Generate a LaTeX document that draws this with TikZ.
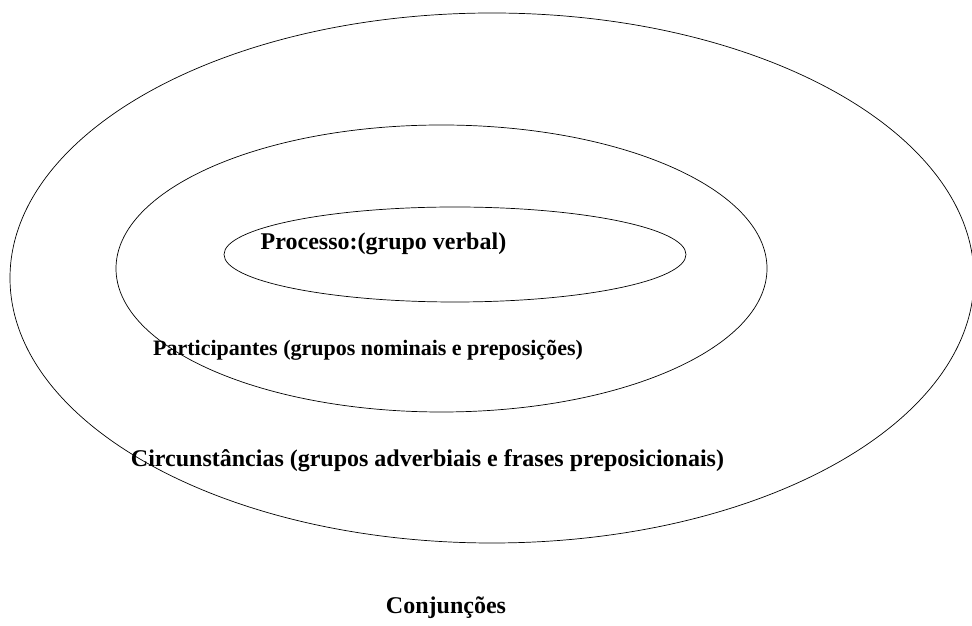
\documentclass[tikz,border=0pt]{standalone}
\usepackage{fontspec}
\setmainfont{Liberation Serif}
\usetikzlibrary{shapes.geometric, positioning}

\begin{document}
\begin{tikzpicture}[x=1pt, y=1pt,
        ring/.style={ellipse, draw, line width=0.7pt, inner sep=0pt}]
        \useasboundingbox (0, 0) rectangle (972, 626);

        \node[ring, minimum width=964, minimum height=530] (circ) at (492, 348) {};
        \node[ring, minimum width=651, minimum height=287] (part) at (441.5, 357.5) {};
        \node[ring, minimum width=462, minimum height=95] (proc) at (455, 371.5) {};

        \node[font=\bfseries\fontsize{24}{28}\selectfont] (proctxt) at (383.5, 382) {Processo:(grupo verbal)};
        \node[font=\bfseries\fontsize{22}{26}\selectfont] (parttxt) at (368, 276) {Participantes (grupos nominais e preposições)};
        \node[font=\bfseries\fontsize{24}{28}\selectfont] (circtxt) at (427.5, 165) {Circunstâncias (grupos adverbiais e frases preposicionais)};
        \node[font=\bfseries\fontsize{24}{28}\selectfont] (conjtxt) at (446, 18) {Conjunções};
    \end{tikzpicture}
\end{document}
